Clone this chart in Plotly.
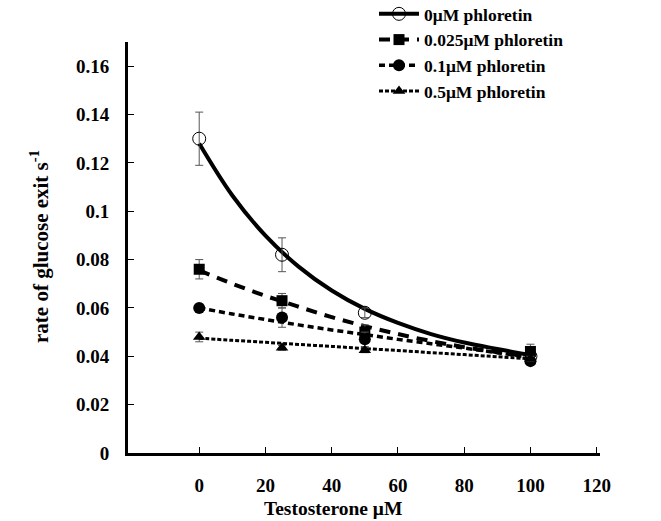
import plotly.graph_objects as go

# ---- data ----
conc = [0, 25, 50, 100]
series_names = ["0μM phloretin", "0.025μM phloretin", "0.1μM phloretin", "0.5μM phloretin"]

rate_0 = [0.130, 0.082, 0.058, 0.040]
err_0 = [0.011, 0.007, 0.002, 0.001]
rate_0025 = [0.076, 0.063, 0.050, 0.042]
err_0025 = [0.004, 0.003, 0.003, 0.003]
rate_01 = [0.060, 0.056, 0.047, 0.038]
err_01 = [0.001, 0.004, 0.003, 0.001]
rate_05 = [0.048, 0.0435, 0.0425, 0.039]
err_05 = [0.002, 0.001, 0.001, 0.001]

# fitted curves
fit_x = [0, 10, 20, 30, 40, 50, 60, 70, 80, 90, 100]
fit_0 = [0.128, 0.1065, 0.0899, 0.0771, 0.0672, 0.0596, 0.0538, 0.0492, 0.0457, 0.0430, 0.0405]
fit_0025 = [0.0755, 0.0700, 0.0650, 0.0605, 0.0562, 0.0525, 0.0492, 0.0463, 0.0438, 0.0417, 0.0400]
fit_01 = [0.0600, 0.0575, 0.0552, 0.0530, 0.0509, 0.0490, 0.0470, 0.0452, 0.0434, 0.0415, 0.0395]
fit_05 = [0.0475, 0.0466, 0.0458, 0.0449, 0.0441, 0.0432, 0.0424, 0.0415, 0.0407, 0.0398, 0.0390]

x_ticks = [0, 20, 40, 60, 80, 100, 120]
y_ticks = [0, 0.02, 0.04, 0.06, 0.08, 0.1, 0.12, 0.14, 0.16]
y_tick_labels = ["0", "0.02", "0.04", "0.06", "0.08", "0.1", "0.12", "0.14", "0.16"]

FONT = "Liberation Serif"

styles = [
    dict(rate=rate_0, err=err_0, fit=fit_0, dash="solid", width=4,
         marker=dict(symbol="circle-open", size=13, color="black", line=dict(width=1, color="black"))),
    dict(rate=rate_0025, err=err_0025, fit=fit_0025, dash="11px,8px", width=4,
         marker=dict(symbol="square", size=11, color="black")),
    dict(rate=rate_01, err=err_01, fit=fit_01, dash="6px,4px", width=3.5,
         marker=dict(symbol="circle", size=12, color="black")),
    dict(rate=rate_05, err=err_05, fit=fit_05, dash="4px,2px", width=3,
         marker=dict(symbol="triangle-up", size=11, color="black")),
]

fig = go.Figure()

for name, st in zip(series_names, styles):
    fig.add_trace(go.Scatter(
        x=fit_x, y=st["fit"], mode="lines", line_shape="spline",
        line=dict(color="black", width=st["width"], dash=st["dash"]),
        showlegend=False, hoverinfo="skip"))
    fig.add_trace(go.Scatter(
        x=conc, y=st["rate"], mode="markers", marker=st["marker"],
        error_y=dict(type="data", array=st["err"], visible=True,
                     color="#555555", thickness=1, width=4),
        showlegend=False))
    fig.add_trace(go.Scatter(
        x=[None], y=[None], mode="lines+markers", name=name,
        line=dict(color="black", width=st["width"], dash=st["dash"]),
        marker=st["marker"], showlegend=True))

pw = 661 - 128 - 61
ph = 521 - 42 - 68

fig.update_layout(
    width=661, height=521,
    margin=dict(l=128, r=61, t=42, b=68, autoexpand=False),
    paper_bgcolor="white", plot_bgcolor="white",
    font=dict(family=FONT, size=19, color="black"),
    showlegend=True,
    legend=dict(x=(374 - 128) / pw, y=1.112, xanchor="left", yanchor="top",
                bgcolor="rgba(0,0,0,0)", font=dict(family=FONT, size=17.5, color="black", weight="bold"),
                tracegroupgap=0, itemwidth=40),
    xaxis=dict(range=[-21.5, 121], tickvals=x_ticks, ticks="inside", ticklen=6, tickwidth=1,
               tickcolor="black", showline=True, linecolor="black", linewidth=3,
               showgrid=False, zeroline=False, ticklabelstandoff=13,
               tickfont=dict(family=FONT, size=19, weight="bold")),
    yaxis=dict(range=[0, 0.17], tickvals=y_ticks, ticktext=y_tick_labels, ticks="inside",
               ticklen=6, tickwidth=1, tickcolor="black", showline=True, linecolor="black",
               linewidth=3, showgrid=False, zeroline=False, ticklabelstandoff=12,
               tickfont=dict(family=FONT, size=19, weight="bold")),
    annotations=[
        dict(text="Testosterone μM", x=(333 - 128) / pw, y=-(508 - 453) / ph,
             xref="paper", yref="paper", xanchor="center", yanchor="middle", showarrow=False,
             font=dict(family=FONT, size=19.5, weight="bold")),
        dict(text="rate of glucose exit s<sup>-1</sup>", textangle=-90, showarrow=False,
             xref="paper", yref="paper", x=-(128 - 40) / pw, y=(453 - 247) / ph,
             xanchor="center", yanchor="middle",
             font=dict(family=FONT, size=21, weight="bold")),
    ],
)

fig.write_html("out.html")
